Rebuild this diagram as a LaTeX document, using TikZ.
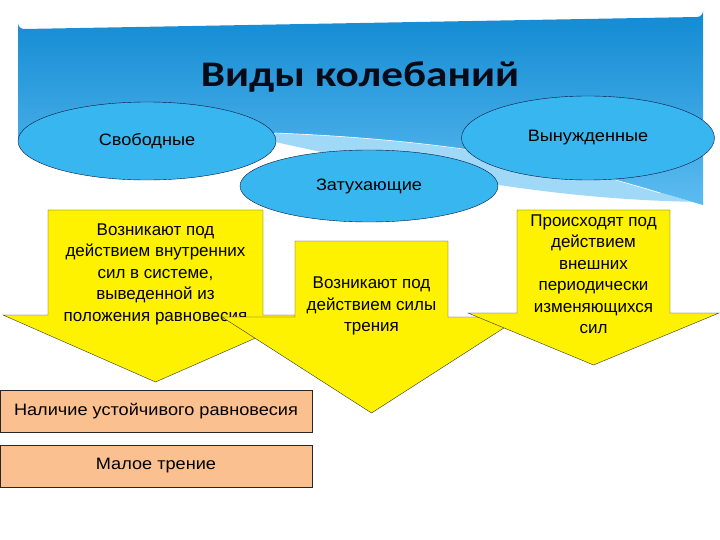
\documentclass[tikz,border=0pt]{standalone}
\usepackage{fontspec}
\setmainfont{Liberation Sans}
\newfontfamily\widefont[FakeStretch=1.1]{Liberation Sans}
\newfontfamily\titlefont[FakeStretch=1.2]{Carlito}
\usetikzlibrary{shapes.geometric}
\definecolor{bannertop}{RGB}{18,138,210}
\definecolor{bannerbot}{RGB}{92,188,240}
\definecolor{bandblue}{RGB}{160,216,247}
\definecolor{ovalblue}{RGB}{56,182,240}
\definecolor{peach}{RGB}{250,192,144}
\definecolor{navy}{RGB}{10,20,60}
\definecolor{titleink}{RGB}{8,10,24}

\begin{document}
\begin{tikzpicture}[x=1pt,y=-1pt,
  every node/.style={font=\fontsize{17}{21.5}\selectfont},
  oval/.style={ellipse,draw=navy,fill=ovalblue,inner sep=0pt,font=\widefont\fontsize{16.5}{20}\selectfont},
  yarrow/.style={draw=black!80,fill=yellow},
  arrowtext/.style={align=center,inner sep=0pt},
  peachbox/.style={draw=black!85,fill=peach,minimum width=312pt,minimum height=42pt,inner sep=0pt,
    font=\widefont\fontsize{16.5}{20}\selectfont}]
\useasboundingbox (0,0) rectangle (720,540);
% header
\fill[bandblue] (275,133) .. controls (450,140) and (560,162) .. (703,205)
  -- (703,202) .. controls (560,200) and (440,178) .. (275,142) -- cycle;
\shade[top color=bannertop,bottom color=bannerbot] (18,23) arc (180:90:6) -- (697,17) arc (90:0:6)
  -- (703,205) .. controls (560,162) and (450,140) .. (275,133) -- (18,141) -- cycle;
\draw[white,semithick] (275,133) .. controls (450,140) and (560,162) .. (660,193);
\node[font=\titlefont\bfseries\fontsize{36}{40}\selectfont,text=titleink] (title) at (360,77) {Виды колебаний};
% ovals
\node[oval,minimum width=253pt,minimum height=84pt] (vyn) at (588,138) {Вынужденные};
\node[oval,minimum width=258pt,minimum height=78pt] (svob) at (147,141) {Свободные};
\node[oval,minimum width=258pt,minimum height=72pt] (zat) at (369,186) {Затухающие};
% arrows
\draw[yarrow] (48,210) -- (263,210) -- (263,315) -- (308,315) -- (155.5,382)
  -- (3,315) -- (48,315) -- cycle;
\node[arrowtext] (svobtxt) at (155.5,274) {Возникают под\\действием внутренних\\сил в системе,\\выведенной из\\положения равновесия};
\draw[yarrow] (295,241) -- (448,241) -- (448,317) -- (521,317) -- (371.5,413)
  -- (222,317) -- (295,317) -- cycle;
\node[arrowtext] (zattxt) at (371.5,306) {Возникают под\\действием силы\\трения};
\draw[yarrow] (517,210) -- (670,210) -- (670,313) -- (719,313) -- (593.5,365)
  -- (468,313) -- (517,313) -- cycle;
\node[arrowtext] (vyntxt) at (593.5,274) {Происходят под\\действием\\внешних\\периодически\\изменяющихся\\сил};
% conditions
\node[peachbox] (ravn) at (156,411) {Наличие устойчивого равновесия};
\node[peachbox] (tren) at (156,466) {Малое трение};
\end{tikzpicture}
\end{document}
